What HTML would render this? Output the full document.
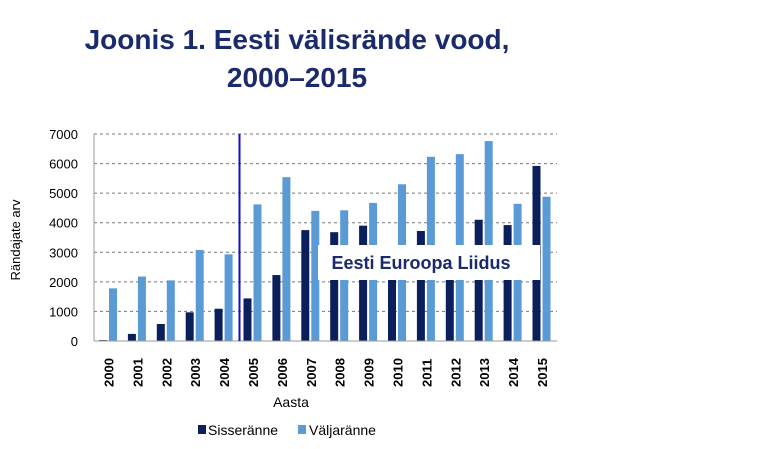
<!DOCTYPE html>
<html><head><meta charset="utf-8"><style>
body{margin:0;background:#fff;width:768px;height:444px;overflow:hidden;font-family:"Liberation Sans",sans-serif}
</style></head><body>
<svg width="768" height="444">
<text x="297" y="49" text-anchor="middle" font-size="28" font-weight="bold" fill="#1a2a6c">Joonis 1. Eesti välisrände vood,</text>
<text x="297" y="87" text-anchor="middle" font-size="28" font-weight="bold" fill="#1a2a6c">2000–2015</text>
<g id="grid"></g><g id="bars"></g><g id="xl"></g><g id="yl"></g>
<line x1="94" y1="134" x2="94" y2="341" stroke="#999"/>
<line x1="94" y1="341" x2="557" y2="341" stroke="#999"/>
<line x1="239.5" y1="134" x2="239.5" y2="341" stroke="#1010c8" stroke-width="2"/>
<rect x="318" y="245" width="222" height="35" fill="#fff"/>
<text x="421" y="269" text-anchor="middle" font-size="18" font-weight="bold" fill="#1a2a6c">Eesti Euroopa Liidus</text>
<text transform="translate(20,240) rotate(-90)" text-anchor="middle" font-size="13" fill="#000">Rändajate arv</text>
<text x="291" y="407" text-anchor="middle" font-size="14" fill="#000">Aasta</text>
<rect x="198" y="425" width="8" height="9" fill="#0a1f5c"/>
<text x="208" y="435" font-size="14" fill="#000">Sisseränne</text>
<rect x="298" y="425" width="8" height="9" fill="#5b9bd5"/>
<text x="309" y="435" font-size="14" fill="#000">Väljaränne</text>
</svg>
<script>
const years=["2000","2001","2002","2003","2004","2005","2006","2007","2008","2009","2010","2011","2012","2013","2014","2015"];
const sisse=[30,240,575,970,1090,1440,2230,3750,3680,3900,3000,3720,3000,4100,3920,5920];
const valja=[1780,2180,2050,3080,2930,4620,5540,4400,4420,4670,5300,6230,6320,6760,4640,4880];
const yTicks=[0,1000,2000,3000,4000,5000,6000,7000];
const NS="http://www.w3.org/2000/svg";
const x0=94,gw=28.9,yb=341,yt=134,ymax=7000;
function y(v){return yb-(v/ymax)*(yb-yt);}
function gx(i){return x0+i*gw;}
function mk(t,a,p){const e=document.createElementNS(NS,t);for(const k in a)e.setAttribute(k,a[k]);document.getElementById(p).appendChild(e);return e;}
yTicks.forEach(v=>{
  if(v>0){const l=mk('line',{x1:x0,x2:557,y1:y(v),y2:y(v),stroke:'#777','stroke-dasharray':'3,3'},'grid');
  
  }
  const t=mk('text',{x:78,y:y(v)+5,'text-anchor':'end','font-size':13},'yl');t.textContent=v;
  
  
});
years.forEach((yr,i)=>{
  const d=mk('rect',{x:gx(i)+5,y:y(sisse[i]),width:8,height:yb-y(sisse[i]),fill:'#0a1f5c'},'bars');
  
  
  const l=mk('rect',{x:gx(i)+15,y:y(valja[i]),width:8,height:yb-y(valja[i]),fill:'#5b9bd5'},'bars');
  
  
  const cx=gx(i)+gw/2+5;
  const t=mk('text',{transform:'translate('+cx+',387) rotate(-90)','font-size':13,'font-weight':'bold'},'xl');t.textContent=yr;
  
  
});
</script>
</body></html>
